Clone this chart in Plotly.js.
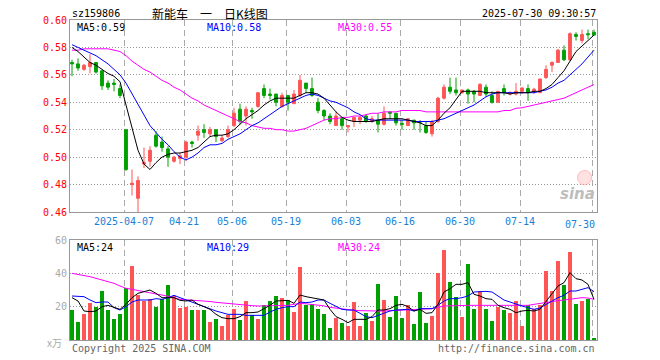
<!DOCTYPE html>
<html>
<head>
<meta charset="utf-8">
<script src="https://cdn.plot.ly/plotly-3.0.1.min.js"></script>
<style>html,body{margin:0;padding:0;background:#fff;}#chart{width:660px;height:360px;}</style>
</head>
<body>
<div id="chart"></div>
<script>
// ---- data ----
const tickIndex  = [9, 19, 27, 36, 46, 55, 65, 75, 87];
const tickLabels = ['2025-04-07','04-21','05-06','05-19','06-03','06-16','06-30','07-14','07-30'];

const openP  = [0.569,0.568,0.564,0.566,0.569,0.563,0.554,0.554,0.550,0.520,
                0.480,0.470,0.495,0.497,0.516,0.511,0.506,0.497,0.499,0.500,
                0.511,0.516,0.520,0.517,0.520,0.512,0.515,0.523,0.535,0.530,
                0.534,0.537,0.550,0.546,0.546,0.537,0.545,0.539,0.545,0.554,
                0.550,0.540,0.534,0.530,0.523,0.528,0.522,0.526,0.527,0.530,
                0.526,0.527,0.524,0.533,0.532,0.5245,0.523,0.527,0.526,0.523,
                0.517,0.526,0.543,0.551,0.549,0.547,0.549,0.548,0.545,0.551,
                0.545,0.540,0.550,0.546,0.546,0.548,0.550,0.548,0.547,0.558,
                0.567,0.569,0.578,0.571,0.5895,0.585,0.590,0.591];
const highP  = [0.571,0.572,0.568,0.575,0.569,0.563,0.556,0.557,0.553,0.520,
                0.491,0.486,0.507,0.508,0.519,0.515,0.508,0.501,0.503,0.512,
                0.512,0.523,0.524,0.522,0.520,0.516,0.523,0.536,0.539,0.537,
                0.536,0.547,0.553,0.550,0.546,0.547,0.545,0.549,0.560,0.554,
                0.558,0.543,0.535,0.532,0.533,0.529,0.523,0.529,0.530,0.531,
                0.530,0.532,0.537,0.533,0.532,0.527,0.528,0.527,0.527,0.526,
                0.527,0.544,0.553,0.558,0.558,0.549,0.550,0.549,0.554,0.553,
                0.548,0.548,0.553,0.548,0.554,0.5505,0.553,0.5505,0.557,0.567,
                0.570,0.579,0.5815,0.591,0.591,0.593,0.593,0.593];
const lowP   = [0.559,0.563,0.563,0.561,0.561,0.549,0.549,0.548,0.543,0.490,
                0.472,0.460,0.492,0.493,0.507,0.504,0.493,0.496,0.495,0.497,
                0.507,0.512,0.514,0.515,0.511,0.511,0.514,0.522,0.524,0.523,
                0.528,0.536,0.543,0.542,0.537,0.536,0.534,0.539,0.544,0.547,
                0.544,0.532,0.527,0.524,0.523,0.520,0.518,0.522,0.524,0.525,
                0.525,0.518,0.523,0.528,0.523,0.520,0.523,0.520,0.518,0.517,
                0.515,0.525,0.542,0.546,0.545,0.546,0.539,0.540,0.545,0.544,
                0.539,0.540,0.545,0.545,0.545,0.546,0.541,0.546,0.547,0.557,
                0.562,0.569,0.570,0.570,0.585,0.583,0.586,0.589];
const closeP = [0.568,0.565,0.567,0.569,0.562,0.552,0.551,0.553,0.545,0.491,
                0.481,0.483,0.496,0.505,0.508,0.507,0.500,0.500,0.501,0.511,
                0.510,0.519,0.518,0.520,0.515,0.514,0.520,0.532,0.526,0.535,
                0.533,0.547,0.545,0.545,0.540,0.545,0.540,0.546,0.556,0.550,
                0.545,0.534,0.530,0.526,0.530,0.523,0.523,0.529,0.529,0.526,
                0.528,0.524,0.532,0.532,0.525,0.524,0.528,0.525,0.5255,0.518,
                0.526,0.543,0.551,0.548,0.547,0.549,0.546,0.546,0.553,0.546,
                0.540,0.548,0.547,0.547,0.548,0.5505,0.547,0.5495,0.557,0.564,
                0.569,0.578,0.571,0.590,0.588,0.5895,0.5893,0.589];

const ma5  = [0.580,0.577,0.573,0.569,0.567,0.564,0.561,0.559,0.555,0.538,
              0.521,0.505,0.495,0.491,0.496,0.500,0.502,0.503,0.503,0.504,
              0.505,0.507,0.511,0.515,0.516,0.516,0.517,0.520,0.524,0.528,
              0.531,0.534,0.538,0.541,0.543,0.543,0.543,0.543,0.545,0.547,
              0.547,0.546,0.543,0.538,0.533,0.529,0.527,0.526,0.526,0.526,
              0.526,0.527,0.528,0.528,0.528,0.528,0.527,0.526,0.525,0.523,
              0.523,0.527,0.532,0.536,0.542,0.548,0.548,0.548,0.548,0.547,
              0.547,0.547,0.547,0.546,0.547,0.547,0.547,0.548,0.548,0.550,
              0.553,0.558,0.563,0.570,0.577,0.581,0.585,0.589];
const ma10 = [0.582,0.580,0.578,0.576,0.574,0.571,0.568,0.564,0.560,0.554,
              0.546,0.538,0.531,0.523,0.518,0.513,0.509,0.504,0.500,0.498,
              0.500,0.503,0.507,0.509,0.509,0.510,0.513,0.515,0.517,0.520,
              0.523,0.525,0.528,0.531,0.534,0.537,0.539,0.541,0.543,0.545,
              0.546,0.545,0.543,0.541,0.540,0.538,0.536,0.533,0.531,0.528,
              0.527,0.527,0.527,0.527,0.527,0.527,0.527,0.526,0.526,0.526,
              0.526,0.527,0.528,0.530,0.532,0.534,0.536,0.538,0.541,0.544,
              0.546,0.547,0.547,0.547,0.547,0.547,0.547,0.547,0.548,0.549,
              0.551,0.554,0.556,0.560,0.564,0.568,0.573,0.578];
const ma30 = [0.578,0.578,0.579,0.579,0.579,0.579,0.579,0.578,0.577,0.574,
              0.570,0.567,0.564,0.562,0.559,0.556,0.554,0.551,0.549,0.546,
              0.543,0.541,0.538,0.536,0.534,0.532,0.530,0.528,0.526,0.525,
              0.523,0.522,0.521,0.521,0.520,0.520,0.519,0.519,0.520,0.521,
              0.523,0.525,0.527,0.528,0.528,0.529,0.529,0.530,0.530,0.531,
              0.532,0.532,0.533,0.533,0.533,0.534,0.534,0.534,0.534,0.533,
              0.533,0.533,0.533,0.533,0.533,0.533,0.533,0.533,0.533,0.533,
              0.533,0.533,0.534,0.534,0.5356,0.536,0.537,0.538,0.539,0.540,
              0.541,0.542,0.543,0.545,0.547,0.549,0.551,0.553];

const volume = [17.8,10.6,15.4,22,19.8,29.2,17.8,12.4,15.4,31,
                44.4,27,23.4,24.8,19.8,24.8,32.8,26.4,19,19.8,
                17.8,17.8,17.8,10.6,12.8,8.4,14.8,18.4,11.8,23.2,
                14.8,12.8,21.2,23.2,26.2,25,23.8,16.6,43.6,20.8,
                21.8,18.4,15.4,7.1,13,10,8.4,22.8,8.4,16,
                11.2,33.4,24,13.8,26.2,13,20.8,9.4,28.8,10,
                14.2,40.2,53.8,34.8,25.6,13.8,45.6,18.4,29.2,18.4,
                11.4,20,18,16,23.4,8.2,20.8,18.4,21.2,41.2,
                29.2,47.2,32.8,52.6,21.4,23.4,24.4,1];
const vma5  = [25.4,23.4,17.4,17,17.4,20,20.8,19.4,18.4,21.4,
               25.4,28,29,30,28,25.4,25.4,25.4,23.8,23.4,
               24,21.4,20,18.4,15.4,13.4,12.8,12.8,14,16.4,
               16.4,16.8,18.8,20.8,23.4,23.8,23.8,22,27,26,
               25.4,24.4,24,18.4,14,12.4,10.4,12.4,12.4,12.4,
               14,18,18,18.8,20.8,21.4,20,17.4,18.4,16,
               16.4,21.4,28.8,30.8,33.4,33.4,34.4,27.4,26.4,24.8,
               24.4,20.8,19.4,18.4,16.4,17.4,17.8,17.4,18.4,22.8,
               27.8,32.4,34.4,40.4,36.8,36,33.4,24.4];
const vma10 = [26.4,26.2,26,24,22.4,22.8,22.8,19.4,18,20,
               22.8,24,24,24,24.8,24.4,25.4,26.8,25.4,24,
               22.8,21.4,20,18.8,17.4,16.4,15.4,15.4,15.4,14.8,
               14.8,14.8,14.8,16.8,18.4,19.4,20,20,22.8,22.4,
               22.8,24,24,22,20,18.4,18,18,16,14,
               13.4,14.8,16.4,17.4,18,18.4,18.4,17.4,18.8,18.8,
               18.8,20.8,23.4,24.8,24.8,25.4,26.4,28.8,29.2,29.2,
               28.8,26.4,24,22.8,21.4,20.4,19.4,18.4,19.2,21.4,
               23.4,25.4,26.8,29.4,29.4,30.4,31.4,29];
const vma30 = [40,39.4,38.8,38,37,36,35,34,32.4,31,
               30.4,29.6,29,28.3,27.6,27,26.4,25.4,24.4,24.2,
               24,23.8,23.6,23.1,22.6,22.2,21.8,21.4,21.1,20.8,
               20.6,20.4,20.4,20.4,20.4,20.5,20.8,21.4,22,21.7,
               21.4,21,20.5,19.6,19.1,18.6,18,17.8,17.6,17.4,
               17.4,17.4,17.4,17.6,17.8,17.8,17.9,18,18.3,18.5,
               18.8,19.6,20.4,20.5,20.7,20.8,20.8,20.8,20.8,20.7,
               20.6,20.4,20.6,20.7,20.8,20.8,20.8,21.4,22,22.8,
               23.2,23.6,24,24.5,25,25.4,25.2,24.4];

// ---- drawing ----
const RED = '#ff5555', GREEN = '#00a000';
const MONO = 'DejaVu Sans Mono, monospace';
const idx = openP.map((_, i) => i);
const volColors = idx.map(i => closeP[i] >= openP[i] ? RED : GREEN);
const gridX = tickIndex.map(v => v - 0.33);
const last = a => a[a.length - 1];

const traces = [
  {type: 'candlestick', x: idx, open: openP, high: highP, low: lowP, close: closeP,
   xaxis: 'x', yaxis: 'y', hoverinfo: 'skip', line: {width: 1}, whiskerwidth: 0,
   increasing: {line: {color: RED, width: 1}, fillcolor: RED},
   decreasing: {line: {color: GREEN, width: 1}, fillcolor: GREEN}},
  {type: 'scatter', mode: 'lines', x: idx, y: ma30, line: {color: '#ff00ff', width: 1}, xaxis: 'x', yaxis: 'y', hoverinfo: 'skip'},
  {type: 'scatter', mode: 'lines', x: idx, y: ma10, line: {color: '#0000ff', width: 1}, xaxis: 'x', yaxis: 'y', hoverinfo: 'skip'},
  {type: 'scatter', mode: 'lines', x: idx, y: ma5, line: {color: '#000000', width: 1}, xaxis: 'x', yaxis: 'y', hoverinfo: 'skip'},
  {type: 'bar', x: idx, y: volume, marker: {color: volColors, line: {width: 0}}, width: 0.8, xaxis: 'x2', yaxis: 'y2', hoverinfo: 'skip'},
  {type: 'scatter', mode: 'lines', x: idx, y: vma30, line: {color: '#ff00ff', width: 1}, xaxis: 'x2', yaxis: 'y2', hoverinfo: 'skip'},
  {type: 'scatter', mode: 'lines', x: idx, y: vma10, line: {color: '#0000ff', width: 1}, xaxis: 'x2', yaxis: 'y2', hoverinfo: 'skip'},
  {type: 'scatter', mode: 'lines', x: idx, y: vma5, line: {color: '#000000', width: 1}, xaxis: 'x2', yaxis: 'y2', hoverinfo: 'skip'}
];

const xBase = {
  range: [-0.333, 87.5], tickmode: 'array', tickvals: gridX,
  showgrid: true, gridcolor: '#aaaaaa', griddash: '6px,4px', gridwidth: 1,
  showline: true, mirror: true, linecolor: '#999999', linewidth: 1,
  zeroline: false, ticks: '', fixedrange: true
};

const ann = (text, x, y, color, xanchor, extra) => Object.assign({
  text, x, y, xref: 'paper', yref: 'paper', showarrow: false, xanchor: xanchor || 'left', yanchor: 'middle',
  font: {family: MONO, size: 10, color: color}
}, extra || {});

const layout = {
  width: 660, height: 360,
  margin: {l: 70, r: 63, t: 20, b: 20},
  paper_bgcolor: '#ffffff', plot_bgcolor: '#ffffff',
  showlegend: false, boxgap: 0.33, bargap: 0,
  xaxis: Object.assign({}, xBase, {domain: [0, 1], anchor: 'y', showticklabels: true,
    ticktext: tickLabels.map((t, i) => i === tickLabels.length - 1 ? '' : t),
    tickfont: {family: MONO, size: 10, color: '#1a7fd6'}, rangeslider: {visible: false}}),
  xaxis2: Object.assign({}, xBase, {domain: [0, 1], anchor: 'y2', showticklabels: false,
    ticktext: tickLabels}),
  yaxis: {domain: [0.4, 1], range: [0.46, 0.60], tickmode: 'array',
    tickvals: [0.46, 0.48, 0.50, 0.52, 0.54, 0.56, 0.58, 0.60], tickformat: '.2f',
    showgrid: true, gridcolor: '#999999', griddash: '1px,2px', showline: true, mirror: true,
    linecolor: '#999999', zeroline: false, ticks: '', fixedrange: true,
    tickfont: {family: MONO, size: 10, color: '#ff0000'}},
  yaxis2: {domain: [0, 0.3125], range: [0, 60], tickmode: 'array', tickvals: [20, 40, 60],
    showgrid: true, gridcolor: '#999999', griddash: '1px,2px', showline: true, mirror: true,
    linecolor: '#999999', zeroline: false, ticks: '', fixedrange: true,
    tickfont: {family: MONO, size: 10, color: '#aaaaaa'}},
  shapes: [
    {type: 'circle', xref: 'paper', yref: 'paper', x0: 0.963, x1: 0.990, y0: 0.485, y1: 0.53,
     line: {color: 'rgba(255,140,140,0.5)', width: 1}, fillcolor: 'rgba(255,170,170,0.35)', layer: 'above'}
  ],
  annotations: [
    ann('sz159806', 0, 1.02, '#000000', 'left'),
    ann('新能车　一　日K线图', 0.152, 1.02, '#000000', 'left', {font: {family: 'Noto Sans CJK SC', size: 12, color: '#000000'}}),
    ann('2025-07-30 09:30:57', 1.002, 1.02, '#000000', 'right'),
    ann('MA5:' + last(ma5).toFixed(2), 0.009, 0.978, '#000000'),
    ann('MA10:' + last(ma10).toFixed(2), 0.256, 0.978, '#0000ff'),
    ann('MA30:' + last(ma30).toFixed(2), 0.505, 0.978, '#ff00ff'),
    ann('MA5:' + Math.round(last(vma5)), 0.009, 0.29, '#000000'),
    ann('MA10:' + Math.round(last(vma10)), 0.256, 0.29, '#0000ff'),
    ann('MA30:' + Math.round(last(vma30)), 0.505, 0.29, '#ff00ff'),
    ann(tickLabels[tickLabels.length - 1], 1.0, 0.36, '#1a7fd6', 'right'),
    ann('x万', -0.012, -0.008, '#aaaaaa', 'right', {font: {family: 'Noto Sans CJK SC', size: 10, color: '#aaaaaa'}}),
    ann('Copyright 2025 SINA.COM', 0, -0.026, '#666666', 'left'),
    ann('http://finance.sina.com.cn', 1.0, -0.026, '#666666', 'right'),
    ann('sina', 1.0, 0.455, '#c0c0c0', 'right', {font: {family: 'DejaVu Sans', size: 15, color: '#bdbdbd', weight: 'bold', style: 'italic'}})
  ]
};

Plotly.newPlot('chart', traces, layout, {staticPlot: true, displayModeBar: false});
</script>
</body>
</html>
